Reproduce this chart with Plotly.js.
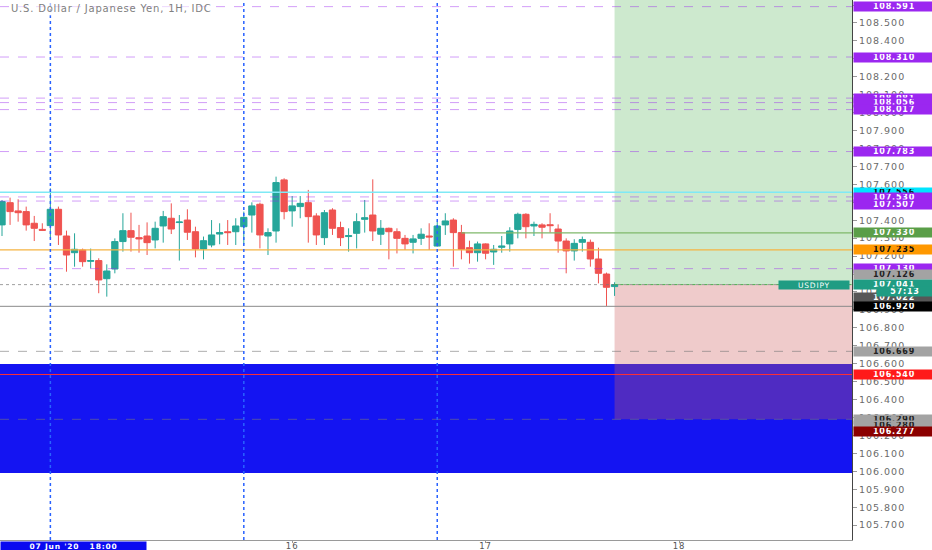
<!DOCTYPE html>
<html><head><meta charset="utf-8">
<script src="https://cdn.plot.ly/plotly-3.0.1.min.js"></script>
<style>
html,body{margin:0;padding:0;background:#fff;}
#chart{width:932px;height:550px;}
.yaxislayer-above text, .xaxislayer-above text{letter-spacing:1px;}
.annotation-text{letter-spacing:0.8px;}
</style>
</head><body><div id="chart"></div>
<script>
// Hourly USD/JPY candles (index 0 = first visible bar)
const openP = [107.374,107.498,107.452,107.448,107.383,107.349,107.370,107.461,107.312,107.219,
107.234,107.171,107.175,107.074,107.128,107.281,107.342,107.303,107.312,107.290,
107.368,107.411,107.387,107.401,107.336,107.240,107.262,107.323,107.336,107.336,
107.364,107.429,107.489,107.312,107.340,107.625,107.452,107.476,107.498,107.424,
107.303,107.457,107.359,107.309,107.327,107.405,107.429,107.322,107.355,107.336,
107.299,107.277,107.299,107.312,107.256,107.374,107.401,107.331,107.247,107.219,
107.268,107.223,107.249,107.268,107.349,107.433,107.368,107.374,107.375,107.351,
107.284,107.229,107.277,107.277,107.184,107.100,107.030];
const highP = [107.513,107.526,107.517,107.476,107.424,107.383,107.578,107.476,107.342,107.327,
107.242,107.242,107.188,107.154,107.299,107.439,107.442,107.374,107.388,107.392,
107.452,107.494,107.429,107.461,107.364,107.309,107.401,107.383,107.401,107.411,
107.448,107.500,107.498,107.355,107.643,107.634,107.535,107.535,107.569,107.439,
107.457,107.467,107.392,107.355,107.439,107.513,107.628,107.401,107.359,107.355,
107.318,107.318,107.355,107.383,107.392,107.439,107.411,107.374,107.286,107.281,
107.271,107.262,107.312,107.361,107.442,107.439,107.392,107.383,107.439,107.377,
107.299,107.294,107.309,107.292,107.247,107.108,107.054];
const lowP = [107.312,107.374,107.392,107.342,107.284,107.342,107.299,107.262,107.113,107.141,
107.141,107.132,106.993,106.974,107.104,107.225,107.225,107.219,107.206,107.243,
107.275,107.323,107.175,107.290,107.193,107.182,107.249,107.266,107.262,107.262,
107.266,107.331,107.243,107.206,107.275,107.405,107.364,107.411,107.275,107.262,
107.262,107.318,107.256,107.225,107.243,107.331,107.284,107.262,107.182,107.215,
107.234,107.215,107.262,107.234,107.253,107.318,107.141,107.182,107.158,107.169,
107.182,107.151,107.219,107.225,107.299,107.299,107.312,107.299,107.331,107.219,
107.104,107.175,107.225,107.141,107.048,106.922,106.978];
const closeP = [107.504,107.448,107.442,107.374,107.355,107.344,107.461,107.318,107.206,107.238,
107.169,107.175,107.067,107.117,107.281,107.342,107.305,107.296,107.275,107.355,
107.420,107.351,107.390,107.333,107.240,107.286,107.318,107.331,107.331,107.368,
107.416,107.480,107.318,107.331,107.610,107.448,107.480,107.494,107.420,107.318,
107.442,107.355,107.303,107.314,107.392,107.414,107.340,107.355,107.336,107.299,
107.268,107.296,107.322,107.307,107.368,107.396,107.331,107.238,107.219,107.268,
107.216,107.238,107.256,107.340,107.433,107.364,107.377,107.361,107.370,107.284,
107.229,107.271,107.292,107.184,107.104,107.026,107.041];

// time axis
const dayTickPos = [36, 60, 84];
const dayTickText = ['16', '17', '18'];
const sessionLines = [6, 30, 54];

// levels drawn on chart
const purpleDashLevels = [108.591, 108.310, 108.081, 108.056, 108.017, 107.783, 107.530, 107.507, 107.130];
const grayDashLevels = [106.669, 106.290];
const cyanLevel = 107.556;
const orangeLevel = 107.235;
const greenLevel = 107.330;
const blackLevel = 106.920;
const redLevel = 106.540;
const lastPrice = 107.041;
const stopLevel = 106.290;
const zoneLow = 105.990, zoneHigh = 106.598;
const entryBar = 76;

// right-hand price labels
const labelVals = [108.591,108.310,108.081,108.056,108.017,107.783,107.556,107.530,107.507,107.330,107.235,107.130,107.126,107.041,107.022,106.920,106.669,106.540,106.290,106.280,106.277];
const labelBg = ['#9b27f0','#9b27f0','#9b27f0','#9b27f0','#9b27f0','#9b27f0','#00e5ff','#9b27f0','#9b27f0','#5a9e48','#ff9800','#9b27f0','#a3a3a3','#1f9c83','#575757','#000000','#a3a3a3','#ff1a1a','#a3a3a3','#a3a3a3','#8b0000'];
const labelFg = ['#fff','#fff','#fff','#fff','#fff','#fff','#111','#fff','#fff','#fff','#111','#fff','#222','#fff','#fff','#fff','#222','#fff','#222','#222','#fff'];
const labelShift = [0,0,0,0,0,0,0,-1,-3,0,0,0,-5.5,0,-9,0,0,0,0,-4,-9.5];

const xIdx = openP.map((_, i) => i);
const yTop = 108.628, yBot = 105.617;
const xL = -0.25, xR = 105.46;

const trace = {
  type: 'candlestick', x: xIdx, open: openP, high: highP, low: lowP, close: closeP,
  increasing: {line: {color: '#26a69a', width: 1}, fillcolor: '#26a69a'},
  decreasing: {line: {color: '#ef5350', width: 1}, fillcolor: '#ef5350'},
  whiskerwidth: 0, hoverinfo: 'none', showlegend: false
};

const shapes = [];
shapes.push({type:'rect', xref:'paper', yref:'y', x0:0, x1:1, y0:zoneLow, y1:zoneHigh, fillcolor:'#1414f2', line:{width:0}, layer:'below'});
shapes.push({type:'rect', xref:'x', yref:'y', x0:entryBar, x1:xR, y0:lastPrice, y1:yTop, fillcolor:'rgba(76,175,80,0.28)', line:{width:0}, layer:'below'});
shapes.push({type:'rect', xref:'x', yref:'y', x0:entryBar, x1:xR, y0:stopLevel, y1:lastPrice, fillcolor:'rgba(205,92,92,0.32)', line:{width:0}, layer:'below'});
purpleDashLevels.forEach(v => shapes.push({type:'line', xref:'paper', yref:'y', x0:0, x1:1, y0:v, y1:v, line:{color:'rgba(155,39,240,0.45)', width:1, dash:'dash'}, layer:'above'}));
grayDashLevels.forEach(v => shapes.push({type:'line', xref:'paper', yref:'y', x0:0, x1:1, y0:v, y1:v, line:{color:'rgba(120,120,120,0.6)', width:1, dash:'dash'}, layer:'above'}));
shapes.push({type:'line', xref:'paper', yref:'y', x0:0, x1:1, y0:cyanLevel, y1:cyanLevel, line:{color:'#7fe9f5', width:1.3}, layer:'above'});
shapes.push({type:'line', xref:'paper', yref:'y', x0:0, x1:1, y0:orangeLevel, y1:orangeLevel, line:{color:'#f5b342', width:1.3}, layer:'above'});
shapes.push({type:'line', xref:'x', yref:'y', x0:57, x1:xR, y0:greenLevel, y1:greenLevel, line:{color:'#7fb86a', width:1.2}, layer:'above'});
shapes.push({type:'line', xref:'paper', yref:'y', x0:0, x1:1, y0:blackLevel, y1:blackLevel, line:{color:'#8a8a8a', width:1}, layer:'above'});
shapes.push({type:'line', xref:'paper', yref:'y', x0:0, x1:1, y0:redLevel, y1:redLevel, line:{color:'#ff3030', width:1}, layer:'above'});
shapes.push({type:'line', xref:'paper', yref:'y', x0:0, x1:1, y0:lastPrice, y1:lastPrice, line:{color:'rgba(120,120,120,0.7)', width:1, dash:'dot'}, layer:'above'});
shapes.push({type:'line', xref:'x', yref:'y', x0:entryBar, x1:xR, y0:lastPrice, y1:lastPrice, line:{color:'#4caf50', width:1, dash:'dot'}, layer:'above'});
sessionLines.forEach(v => shapes.push({type:'line', xref:'x', yref:'paper', x0:v, x1:v, y0:0, y1:1, line:{color:'#2962ff', width:1.5, dash:'dot'}, layer:'above'}));

const annotations = [];
labelVals.forEach((v, i) => annotations.push({
  xref:'paper', yref:'y', x:1, y:v, xanchor:'left', yanchor:'middle', xshift:1, yshift:labelShift[i],
  text:'<b>' + v.toFixed(3) + '</b>', showarrow:false, width:78, height:7, borderpad:1,
  bgcolor:labelBg[i], font:{family:'DejaVu Sans', size:8, color:labelFg[i]}, align:'center'
}));
annotations.push({xref:'paper', yref:'y', x:1, y:107.005, xanchor:'left', yanchor:'middle', xshift:24, text:'<b>57:13</b>', showarrow:false, width:54, height:7, borderpad:1, bgcolor:'#1f9c83', font:{family:'DejaVu Sans', size:8, color:'#fff'}});
annotations.push({xref:'paper', yref:'y', x:0.998, y:lastPrice, xanchor:'right', yanchor:'middle', text:'USDJPY', showarrow:false, width:68, height:6, borderpad:1, bgcolor:'#1f9c83', font:{family:'DejaVu Sans', size:7.5, color:'#fff'}});
annotations.push({xref:'paper', yref:'paper', x:0.01, y:0.985, xanchor:'left', yanchor:'middle', text:'U.S. Dollar / Japanese Yen, 1H, IDC', showarrow:false, bgcolor:'rgba(255,255,255,0.6)', font:{family:'DejaVu Sans', size:10, color:'#808080'}});
annotations.push({xref:'paper', yref:'paper', x:0, y:0, xanchor:'left', yanchor:'top', yshift:-1, text:"<b>07 Jun '20   18:00</b>", showarrow:false, width:143, height:7, borderpad:1, bgcolor:'#0a0af0', font:{family:'DejaVu Sans', size:7.5, color:'#fff'}});

const layout = {
  width:932, height:550, paper_bgcolor:'#ffffff', plot_bgcolor:'#ffffff',
  margin:{l:0, r:80, t:0, b:10},
  showlegend:false, dragmode:false, boxgap:0.22, boxgroupgap:0,
  xaxis:{range:[xL, xR], tickmode:'array', tickvals:dayTickPos, ticktext:dayTickText,
    showgrid:false, zeroline:false, showline:true, linecolor:'#9a9a9a', linewidth:1,
    ticks:'outside', ticklen:2, tickcolor:'#9a9a9a', ticklabelstandoff:-4,
    tickfont:{family:'DejaVu Sans', size:8.5, color:'#555'},
    rangeslider:{visible:false}, fixedrange:true},
  yaxis:{range:[yBot, yTop], side:'right', dtick:0.1, tick0:0, tickformat:'.3f',
    showgrid:false, zeroline:false, showline:true, linecolor:'#444', linewidth:1,
    ticks:'outside', ticklen:4, tickcolor:'#9a9a9a', tickfont:{family:'DejaVu Sans', size:9.5, color:'#6a6a6a'},
    fixedrange:true},
  shapes:shapes, annotations:annotations
};
Plotly.newPlot('chart', [trace], layout, {staticPlot:true, displayModeBar:false});
</script></body></html>
